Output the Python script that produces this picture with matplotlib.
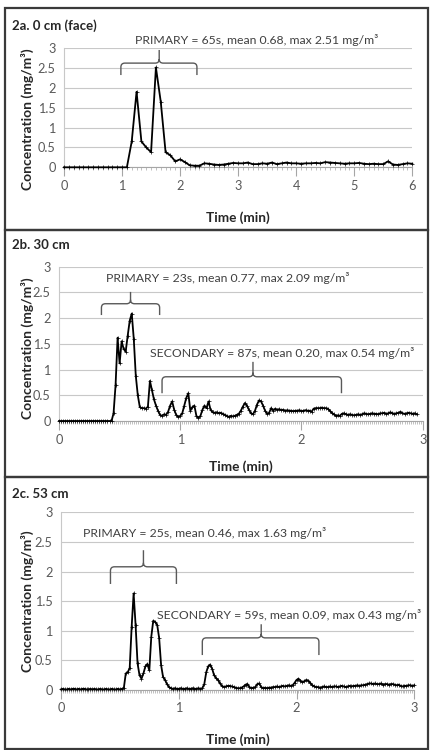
import numpy as np
import matplotlib.pyplot as plt
from matplotlib.path import Path
from matplotlib.patches import PathPatch, Rectangle
from matplotlib.ticker import MultipleLocator, FormatStrFormatter

plt.rcParams['font.family'] = ['Lato', 'DejaVu Sans']

# ---- data (concentration in mg/m3) ----
# 2a: 5 s samples over 6 min
t_face = np.arange(73) / 12
c_face = [0, 0, 0, 0, 0, 0, 0, 0, 0, 0, 0, 0, 0, 0,
          0.65, 1.90, 0.65, 0.50, 0.38, 2.51, 1.65, 0.38, 0.30, 0.15,
          0.20, 0.13, 0.05, 0.04, 0.04, 0.10, 0.09,
          0.07, 0.06, 0.07, 0.09, 0.11, 0.10, 0.10, 0.12, 0.08, 0.08,
          0.10, 0.09, 0.12, 0.08, 0.10, 0.12, 0.10, 0.10, 0.09, 0.10,
          0.10, 0.11, 0.10, 0.13, 0.12, 0.11, 0.10, 0.09, 0.10, 0.10,
          0.11, 0.09, 0.08, 0.09, 0.08, 0.08, 0.15, 0.07, 0.06, 0.08,
          0.10, 0.09]

# 2b: 1 s samples
t_30 = np.arange(178) / 60
c_30 = [0, 0, 0, 0, 0, 0, 0, 0, 0, 0,
        0, 0, 0, 0, 0, 0, 0, 0, 0, 0,
        0, 0, 0, 0, 0, 0, 0, 0.15, 0.70, 1.62,
        1.12, 1.55, 1.40, 1.35, 1.66, 1.95, 2.09, 1.60, 0.88, 0.50,
        0.27, 0.25, 0.25, 0.24, 0.28, 0.78, 0.60, 0.42, 0.30, 0.20,
        0.12, 0.10, 0.13, 0.12, 0.18, 0.30, 0.38, 0.22, 0.12, 0.08,
        0.10, 0.15, 0.30, 0.45, 0.54, 0.20, 0.27, 0.30, 0.10, 0.06,
        0.10, 0.22, 0.30, 0.25, 0.38, 0.22, 0.17, 0.16, 0.17, 0.15,
        0.16, 0.14, 0.12, 0.10, 0.08, 0.10, 0.09, 0.10, 0.12, 0.14,
        0.20, 0.28, 0.35, 0.30, 0.22, 0.15, 0.13, 0.20, 0.32, 0.40,
        0.38, 0.30, 0.20, 0.14, 0.16, 0.25, 0.20, 0.24, 0.22, 0.23,
        0.21, 0.22, 0.20, 0.21, 0.20, 0.20, 0.19, 0.20, 0.20, 0.21,
        0.19, 0.20, 0.21, 0.20, 0.20, 0.18, 0.24, 0.25, 0.25, 0.25,
        0.26, 0.25, 0.25, 0.24, 0.20, 0.16, 0.13, 0.10, 0.11, 0.10,
        0.14, 0.15, 0.13, 0.12, 0.13, 0.12, 0.11, 0.12, 0.13, 0.12,
        0.13, 0.15, 0.14, 0.13, 0.14, 0.15, 0.14, 0.14, 0.13, 0.15,
        0.15, 0.16, 0.14, 0.15, 0.17, 0.15, 0.14, 0.15, 0.16, 0.18,
        0.15, 0.14, 0.15, 0.16, 0.15, 0.14, 0.15, 0.13]

# 2c: 1 s samples
t_53 = np.arange(181) / 60
c_53 = [0.01, 0.02, 0.01, 0.01, 0.02, 0.01, 0.02, 0.02, 0.01, 0.02,
        0.01, 0.02, 0.02, 0.01, 0.01, 0.02, 0.01, 0.02, 0.01, 0.01,
        0.02, 0.01, 0.01, 0.02, 0.01, 0.01, 0.02, 0.01, 0.01, 0.02,
        0.01, 0.02, 0.03, 0.28, 0.30, 0.37, 1.07, 1.63, 1.10, 0.45,
        0.25, 0.19, 0.28, 0.40, 0.44, 0.33, 0.90, 1.17, 1.15, 1.10,
        0.88, 0.42, 0.22, 0.17, 0.10, 0.05, 0.03, 0.02, 0.03, 0.02,
        0.02, 0.03, 0.02, 0.02, 0.03, 0.02, 0.02, 0.03, 0.02, 0.02,
        0.03, 0.02, 0.03, 0.10, 0.30, 0.40, 0.43, 0.36, 0.25, 0.20,
        0.17, 0.11, 0.07, 0.05, 0.06, 0.07, 0.07, 0.06, 0.05, 0.04,
        0.03, 0.03, 0.04, 0.06, 0.09, 0.10, 0.05, 0.03, 0.04, 0.05,
        0.10, 0.11, 0.05, 0.03, 0.04, 0.03, 0.04, 0.04, 0.05, 0.05,
        0.06, 0.05, 0.06, 0.07, 0.06, 0.07, 0.08, 0.07, 0.08, 0.12,
        0.17, 0.19, 0.16, 0.13, 0.15, 0.17, 0.16, 0.12, 0.08, 0.06,
        0.05, 0.05, 0.04, 0.05, 0.06, 0.05, 0.05, 0.06, 0.05, 0.06,
        0.06, 0.05, 0.06, 0.07, 0.06, 0.05, 0.06, 0.07, 0.06, 0.07,
        0.07, 0.08, 0.07, 0.08, 0.08, 0.09, 0.10, 0.11, 0.11, 0.10,
        0.11, 0.10, 0.10, 0.11, 0.09, 0.10, 0.10, 0.09, 0.10, 0.10,
        0.09, 0.08, 0.09, 0.07, 0.06, 0.07, 0.07, 0.08, 0.08, 0.07,
        0.08]

titles = ['2a. 0 cm (face)', '2b. 30 cm', '2c. 53 cm']
yticks = [0, 0.5, 1, 1.5, 2, 2.5, 3]

W, H = 433, 750
fig = plt.figure(figsize=(W / 100, H / 100), dpi=100)


def fx(x):
    return x / W


def fy(y):
    return 1 - y / H


GRAY = '#595959'
AXC = '#a6a6a6'


def brace(ax, x0, x1, xc, ybot, yh, ytip, rx, ry):
    verts = [(x0, ybot), (x0, yh - ry), (x0, yh), (x0 + rx, yh),
             (xc - rx, yh), (xc, yh), (xc, yh + ry), (xc, ytip),
             (xc, yh + ry), (xc, yh), (xc + rx, yh),
             (x1 - rx, yh), (x1, yh), (x1, yh - ry), (x1, ybot)]
    codes = [Path.MOVETO, Path.LINETO, Path.CURVE3, Path.CURVE3,
             Path.LINETO, Path.CURVE3, Path.CURVE3, Path.LINETO,
             Path.MOVETO, Path.CURVE3, Path.CURVE3,
             Path.LINETO, Path.CURVE3, Path.CURVE3, Path.LINETO]
    ax.add_patch(PathPatch(Path(verts, codes), fill=False, ec=GRAY,
                           lw=1.0, clip_on=False))


# panel boxes (pixel coords: top, bottom)
boxes = [(8, 230), (230, 477), (477, 749)]
for top, bot in boxes:
    fig.patches.append(Rectangle((fx(5), fy(bot)), fx(428) - fx(5), fy(top) - fy(bot),
                                 transform=fig.transFigure, fill=False,
                                 ec='#3a3a3a', lw=1.6))

# axes in pixels: left, right, top(y=3), bottom(y=0)
axpos = [(64, 412.3, 48, 167.3), (59, 422.7, 266.7, 421), (61, 414.3, 512.3, 690)]
xmax = [6, 3, 3]
minor = [1 / 12, 1 / 60, 1 / 60]
series = [(t_face, c_face), (t_30, c_30), (t_53, c_53)]
title_y = [26, 245, 494]
ylab_y = [119, 348, 601]
xlab_y = [218, 467, 740]

# annotations: (text, text x, text y, brace x0, x1, xc, ybot, yh, ytip)
notes = [
    [('PRIMARY = 65s, mean 0.68, max 2.51 mg/m³', 3.32, 3.2, 0.98, 2.29, 1.64, 2.32, 2.62, 2.95)],
    [('PRIMARY = 23s, mean 0.77, max 2.09 mg/m³', 1.39, 2.78, 0.35, 0.83, 0.59, 2.06, 2.28, 2.51),
     ('SECONDARY = 87s, mean 0.20, max 0.54 mg/m³', 1.84, 1.32, 0.85, 2.33, 1.60, 0.54, 0.86, 1.15)],
    [('PRIMARY = 25s, mean 0.46, max 1.63 mg/m³', 1.22, 2.65, 0.42, 0.98, 0.70, 1.79, 2.08, 2.36),
     ('SECONDARY = 59s, mean 0.09, max 0.43 mg/m³', 1.94, 1.27, 1.20, 2.19, 1.70, 0.59, 0.88, 1.11)],
]

for i in range(3):
    l, r, t, b = axpos[i]
    ax = fig.add_axes([fx(l), fy(b), fx(r) - fx(l), fy(t) - fy(b)])
    x, y = series[i]
    ax.plot(x, y, color='black', lw=1.3, marker='+', ms=2.2, mew=0.5, clip_on=False, zorder=3)
    ax.set_xlim(0, xmax[i])
    ax.set_ylim(0, 3)
    ax.set_yticks(yticks)
    ax.yaxis.set_major_formatter(FormatStrFormatter('%g'))
    ax.xaxis.set_major_locator(MultipleLocator(1))
    ax.xaxis.set_minor_locator(MultipleLocator(minor[i]))
    ax.yaxis.grid(True, color='#c8c8c8', lw=0.8)
    ax.set_axisbelow(True)
    for s in ['top', 'right']:
        ax.spines[s].set_visible(False)
    ax.spines['left'].set_color('#c8c8c8')
    ax.spines['bottom'].set_color(AXC)
    ax.tick_params(axis='y', length=0, pad=6, labelsize=9.2, labelcolor=GRAY)
    ax.tick_params(axis='x', which='major', direction='out', length=6.5, width=0.8,
                   color=AXC, pad=2.5, labelsize=9.2, labelcolor=GRAY)
    ax.tick_params(axis='x', which='minor', direction='out', length=2, width=0.5, color=AXC)

    pxx = (r - l) / xmax[i]
    pxy = (b - t) / 3
    for txt, tx, ty, x0, x1, xc, yb, yh, ytip in notes[i]:
        ax.text(tx, ty, txt, ha='center', va='center', fontsize=8.8, color='#404040', clip_on=False)
        brace(ax, x0, x1, xc, yb, yh, ytip, 4 / pxx, 4 / pxy)

    fig.text(fx(12), fy(title_y[i]), titles[i], ha='left', va='center',
             fontsize=9.5, fontweight='bold', color='#262626')
    fig.text(fx(27), fy(ylab_y[i]), 'Concentration (mg/m³)', rotation=90, ha='center',
             va='center', fontsize=10, fontweight='bold', color='#262626')
    fig.text(fx((l + r) / 2), fy(xlab_y[i]), 'Time (min)', ha='center', va='center',
             fontsize=9.8, fontweight='bold', color='#262626')

fig.savefig('out.png', dpi=100)
